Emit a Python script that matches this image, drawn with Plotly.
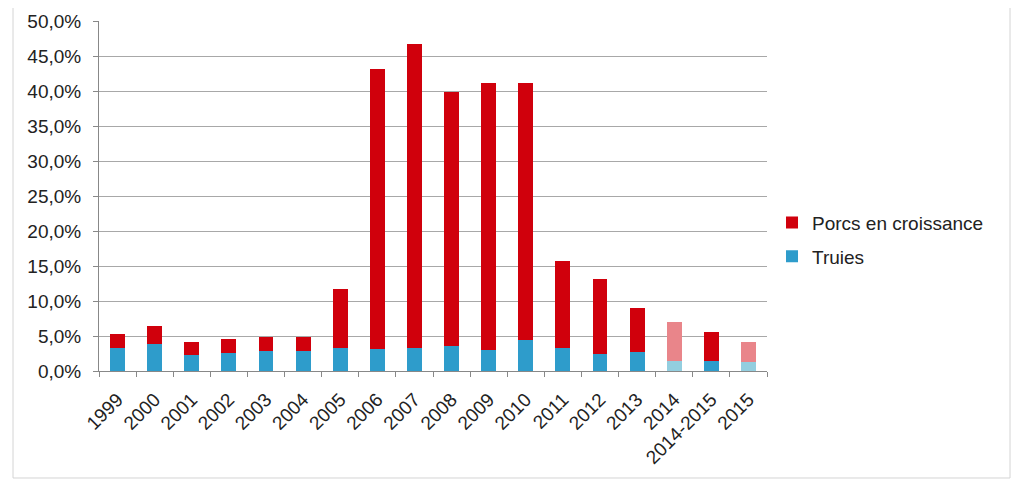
import plotly.graph_objects as go

categories = ["1999", "2000", "2001", "2002", "2003", "2004", "2005", "2006", "2007",
              "2008", "2009", "2010", "2011", "2012", "2013", "2014", "2014-2015", "2015"]
truies = [3.24, 3.86, 2.24, 2.6, 2.8, 2.9, 3.24, 3.14, 3.24,
          3.57, 3.0, 4.5, 3.24, 2.43, 2.76, 1.47, 1.43, 1.29]
porcs = [2.0, 2.64, 1.9, 2.0, 2.1, 2.0, 8.46, 39.96, 43.46,
         36.23, 38.2, 36.7, 12.46, 10.67, 6.24, 5.53, 4.17, 2.85]
faded_categories = ["2014", "2015"]
y_ticks = [0, 5, 10, 15, 20, 25, 30, 35, 40, 45, 50]
y_tick_labels = [f"{v:.1f}%".replace(".", ",") for v in y_ticks]

RED = "#D0000C"
BLUE = "#2E9CCB"
RED_FADED = "#E9858A"
BLUE_FADED = "#93CEDF"

red_colors = [RED_FADED if c in faded_categories else RED for c in categories]
blue_colors = [BLUE_FADED if c in faded_categories else BLUE for c in categories]

FONT = "Liberation Sans, Arial, sans-serif"
FS = 19

fig = go.Figure()
fig.add_trace(go.Bar(x=categories, y=truies, name="Truies",
                     marker=dict(color=blue_colors, line=dict(width=0)),
                     legendgroup="t", legendrank=2))
fig.add_trace(go.Bar(x=categories, y=porcs, name="Porcs en croissance",
                     marker=dict(color=red_colors, line=dict(width=0)),
                     legendgroup="p", legendrank=1))

fig.update_layout(
    width=1016, height=481,
    barmode="stack", bargap=0.6,
    paper_bgcolor="white", plot_bgcolor="white",
    margin=dict(l=91, r=257, t=13, b=118, autoexpand=False),
    font=dict(family=FONT, size=FS, color="#222222"),
    showlegend=True,
    legend=dict(x=1.0075, y=0.375, xanchor="left", yanchor="middle",
                traceorder="grouped", tracegroupgap=6,
                font=dict(size=FS, color="#222222"), bgcolor="rgba(0,0,0,0)"),
    xaxis=dict(type="category", tickangle=-45, ticks="outside", tickson="boundaries",
               ticklen=5, tickcolor="#888888", showline=True, linecolor="#888888",
               linewidth=1, showgrid=False, automargin=False, ticklabelstandoff=9,
               tickfont=dict(size=FS, color="#222222")),
    yaxis=dict(range=[0, 50], tickmode="array", tickvals=y_ticks, ticktext=y_tick_labels,
               ticks="outside", ticklen=5, tickcolor="#888888",
               showline=True, linecolor="#888888", linewidth=1, automargin=False,
               ticklabelstandoff=8,
               showgrid=True, gridcolor="#A8A8A8", gridwidth=1, zeroline=False,
               tickfont=dict(size=FS, color="#222222")),
    shapes=[dict(type="rect", xref="paper", yref="paper",
                 x0=-0.1287, x1=1.3638, y0=-0.3057, y1=1.2,
                 line=dict(color="#D4D4D4", width=1), layer="below")],
)

fig.write_html("out.html")
